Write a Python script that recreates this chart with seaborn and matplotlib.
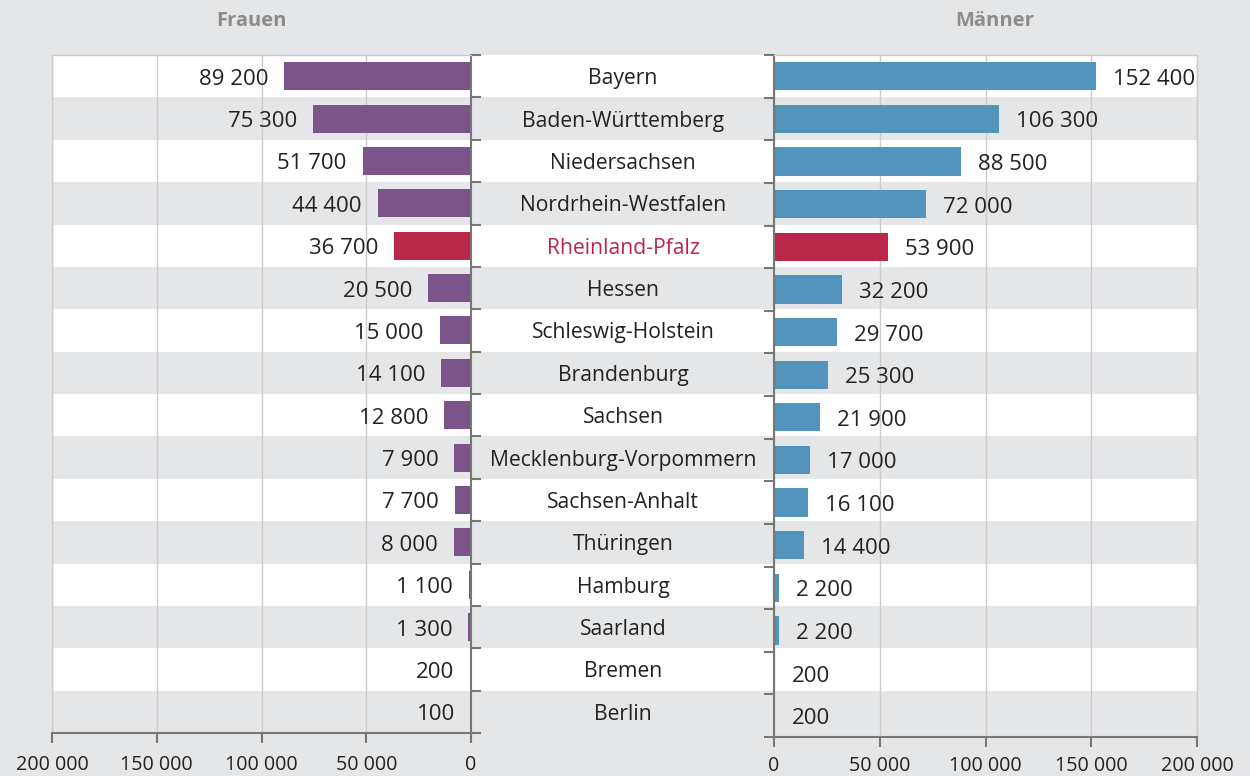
import matplotlib
matplotlib.use("Agg")
import matplotlib.pyplot as plt
import seaborn as sns
import pandas as pd
from matplotlib.ticker import FuncFormatter, FixedLocator

# Bundesländer, sorted by number of men
states = ["Bayern", "Baden-Württemberg", "Niedersachsen", "Nordrhein-Westfalen",
          "Rheinland-Pfalz", "Hessen", "Schleswig-Holstein", "Brandenburg",
          "Sachsen", "Mecklenburg-Vorpommern", "Sachsen-Anhalt", "Thüringen",
          "Hamburg", "Saarland", "Bremen", "Berlin"]
frauen = [89200, 75300, 51700, 44400, 36700, 20500, 15000, 14100,
          12800, 7900, 7700, 8000, 1100, 1300, 200, 100]
maenner = [152400, 106300, 88500, 72000, 53900, 32200, 29700, 25300,
           21900, 17000, 16100, 14400, 2200, 2200, 200, 200]
x_ticks = [0, 50000, 100000, 150000, 200000]
highlight = "Rheinland-Pfalz"
panel_titles = ["Frauen", "Männer"]

BG = "#e5e6e8"
PURPLE = "#7b5589"
BLUE = "#5294bb"
RED = "#b9274a"
SPINE = "#777777"
GRID = "#cccccc"
TEXT = "#222222"

sns.set_theme(style="white")
plt.rcParams["font.family"] = ["Open Sans", "DejaVu Sans"]

W, H = 1250, 776
fig = plt.figure(figsize=(W / 100, H / 100), dpi=100, facecolor=BG)


def box(x0, y0, x1, y1):
    """Axes rectangle from pixel edges (origin top-left)."""
    return [x0 / W, 1 - y1 / H, (x1 - x0) / W, (y1 - y0) / H]


def fmt(v, pos=None):
    return f"{int(v):,}".replace(",", " ")


n = len(states)
df = pd.DataFrame({"Land": states, "Frauen": frauen, "Männer": maenner})
boundaries = [i - 0.5 for i in range(n + 1)]

# striped row background spanning both panels and the label column
bg = fig.add_axes(box(52, 55, 1197, 733), zorder=0)
bg.set_xlim(52, 1197)
bg.set_ylim(n - 0.5, -0.5)
for i in range(n):
    bg.axhspan(i - 0.5, i + 0.5, color="white" if i % 2 == 0 else BG, lw=0)
bg.axis("off")
for i, s in enumerate(states):
    bg.text(623, i + 0.19, s, ha="center", va="baseline", fontsize=15.2,
            color=RED if s == highlight else TEXT)


def style_panel(ax, side, pad):
    ax.set_facecolor("none")
    ax.set_xlabel("")
    ax.set_ylabel("")
    ax.set_ylim(n - 0.5, -0.5)
    ax.set_yticks([])
    ax.yaxis.set_minor_locator(FixedLocator(boundaries))
    if side == "left":
        ax.set_xlim(200000, 0)
        ax.yaxis.tick_right()
        ax.tick_params(axis="y", which="minor", right=True, left=False,
                       length=7, width=1.5, color=SPINE, direction="out")
        inner, outer = "right", "left"
    else:
        ax.set_xlim(0, 200000)
        ax.yaxis.tick_left()
        ax.tick_params(axis="y", which="minor", left=True, right=False,
                       length=7, width=1.5, color=SPINE, direction="out")
        inner, outer = "left", "right"
    ax.set_xticks(x_ticks)
    ax.xaxis.set_major_formatter(FuncFormatter(fmt))
    ax.tick_params(axis="x", bottom=True, length=7, width=1.5, color=SPINE,
                   labelsize=14.2, labelcolor=TEXT, pad=pad, direction="out")
    ax.grid(axis="x", color=GRID, lw=1)
    ax.grid(axis="y", visible=False)
    ax.set_axisbelow(True)
    for sp in (inner, "bottom"):
        ax.spines[sp].set_visible(True)
        ax.spines[sp].set_color(SPINE)
        ax.spines[sp].set_linewidth(1.5)
    for sp in (outer, "top"):
        ax.spines[sp].set_visible(True)
        ax.spines[sp].set_color(GRID)
        ax.spines[sp].set_linewidth(1)


# Frauen (left, bars grow leftwards)
axL = fig.add_axes(box(52, 55, 471, 733), zorder=2)
pal_f = {s: (RED if s == highlight else PURPLE) for s in states}
sns.barplot(data=df, x="Frauen", y="Land", hue="Land", palette=pal_f,
            orient="h", width=0.66, saturation=1, linewidth=0,
            legend=False, ax=axL)
style_panel(axL, "left", pad=9)
for i, v in enumerate(frauen):
    axL.annotate(fmt(v), xy=(v, i), xytext=(-16, -8.5),
                 textcoords="offset pixels", ha="right", va="baseline",
                 fontsize=16, color=TEXT)

# Männer (right)
axR = fig.add_axes(box(774, 55, 1197, 737), zorder=2)
pal_m = {s: (RED if s == highlight else BLUE) for s in states}
sns.barplot(data=df, x="Männer", y="Land", hue="Land", palette=pal_m,
            orient="h", width=0.66, saturation=1, linewidth=0,
            legend=False, ax=axR)
style_panel(axR, "right", pad=7)
for i, v in enumerate(maenner):
    axR.annotate(fmt(v), xy=(v, i), xytext=(17, -8.5),
                 textcoords="offset pixels", ha="left", va="baseline",
                 fontsize=16, color=TEXT)

# panel headings
fig.text(251 / W, 1 - 21 / H, panel_titles[0], ha="center", va="center",
         fontsize=14.5, fontweight="bold", color="#8c8c8c")
fig.text(995 / W, 1 - 21 / H, panel_titles[1], ha="center", va="center",
         fontsize=14.5, fontweight="bold", color="#8c8c8c")

fig.savefig("out.png", dpi=100, facecolor=BG)
